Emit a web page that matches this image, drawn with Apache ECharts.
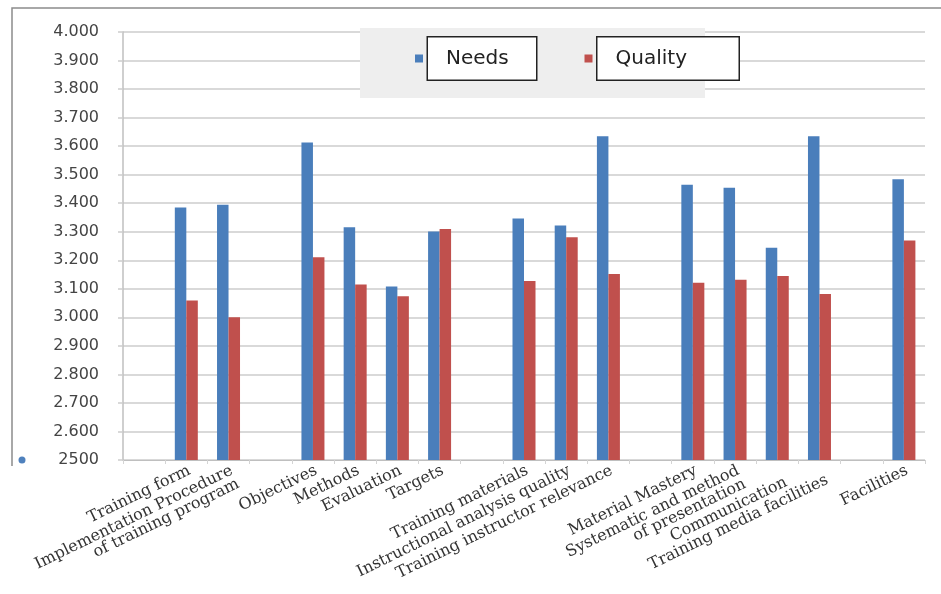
<!DOCTYPE html>
<html>
<head>
<meta charset="utf-8">
<script src="https://cdn.jsdelivr.net/npm/echarts@6/dist/echarts.min.js"></script>
<style>
  html, body { margin: 0; padding: 0; background: #ffffff; }
  #chart { width: 941px; height: 594px; }
</style>
</head>
<body>
<div id="chart"></div>
<script>
// Category slots; blank entries separate the groups of aspects
const categories = [
  '', 'Training form', 'Implementation Procedure\nof training program',
  '', 'Objectives', 'Methods', 'Evaluation', 'Targets',
  '', 'Training materials', 'Instructional analysis quality', 'Training instructor relevance',
  '', 'Material Mastery', 'Systematic and method\nof presentation', 'Communication', 'Training media facilities',
  '', 'Facilities'
];

const needsValues = [
  null, 3.385, 3.395,
  null, 3.613, 3.316, 3.108, 3.301,
  null, 3.346, 3.322, 3.635,
  null, 3.465, 3.454, 3.244, 3.635,
  null, 3.484
];

const qualityValues = [
  null, 3.059, 3.000,
  null, 3.211, 3.115, 3.074, 3.310,
  null, 3.127, 3.281, 3.152,
  null, 3.121, 3.132, 3.145, 3.082,
  null, 3.269
];

const yTickLabels = [
  '2500', '2.600', '2.700', '2.800', '2.900', '3.000', '3.100', '3.200',
  '3.300', '3.400', '3.500', '3.600', '3.700', '3.800', '3.900', '4.000'
];

const seriesNames = ['Needs', 'Quality'];

const chart = echarts.init(document.getElementById('chart'), null, { renderer: 'canvas' });

const legendBox = {
  fontFamily: 'DejaVu Sans', fontSize: 20, color: '#222222', lineHeight: 24,
  padding: [11, 0, 11, 18],
  borderColor: '#222222', borderWidth: 1.5, backgroundColor: '#ffffff'
};

const catFont = { fontFamily: 'DejaVu Serif', fontSize: 16, lineHeight: 15, color: '#333333' };

// labels that sit lower so they clear the two-line label before them
const loweredLabels = { 'Communication': 'low2', 'Training media facilities': 'low1' };

chart.setOption({
  backgroundColor: '#ffffff',
  animation: false,
  grid: { left: 123, right: 16, top: 32, bottom: 134 },
  graphic: [
    {
      // outer frame (left and top edges)
      type: 'polyline',
      z: 0,
      shape: { points: [[12, 466], [12, 8], [941, 8]] },
      style: { stroke: '#8c8c8c', lineWidth: 1.5, fill: null }
    },
    {
      type: 'circle',
      z: 0,
      shape: { cx: 22, cy: 460, r: 3.5 },
      style: { fill: '#4F81BD' }
    },
    {
      // shaded panel behind the legend
      type: 'rect',
      z: 1,
      shape: { x: 360, y: 28, width: 345, height: 70 },
      style: { fill: '#eeeeee' }
    }
  ],
  legend: {
    data: seriesNames,
    left: 415,
    top: 36,
    padding: 0,
    itemWidth: 8,
    itemHeight: 8,
    itemGap: 47,
    icon: 'rect',
    z: 5,
    formatter: function (name) {
      return name === 'Needs' ? '{n|' + name + '}' : '{q|' + name + '}';
    },
    textStyle: {
      rich: {
        n: Object.assign({ width: 90 }, legendBox),
        q: Object.assign({ width: 123 }, legendBox)
      }
    }
  },
  xAxis: {
    type: 'category',
    data: categories,
    axisLine: { show: true, lineStyle: { color: '#bfbfbf', width: 1 } },
    axisTick: { show: true, length: 4, lineStyle: { color: '#d4d4d4' } },
    axisLabel: Object.assign({
      interval: 0,
      rotate: 26,
      margin: 3,
      verticalAlign: 'top',
      formatter: function (value) {
        const key = loweredLabels[value];
        return key ? '{' + key + '|' + value + '}' : value;
      },
      rich: {
        low1: Object.assign({ padding: [21, 0, 0, 0] }, catFont),
        low2: Object.assign({ padding: [26, 0, 0, 0] }, catFont)
      }
    }, catFont),
    splitLine: { show: false }
  },
  yAxis: {
    type: 'value',
    min: 2.5,
    max: 4.0,
    interval: 0.1,
    axisLine: { show: true, lineStyle: { color: '#bfbfbf', width: 1.5 } },
    axisTick: { show: true, length: 5, lineStyle: { color: '#cdcdcd', width: 1.5 } },
    axisLabel: {
      margin: 24,
      fontFamily: 'DejaVu Sans',
      fontSize: 16,
      color: '#444444',
      formatter: function (value, index) { return yTickLabels[index]; }
    },
    splitLine: { show: true, lineStyle: { color: '#cdcdcd', width: 1.5 } }
  },
  series: [
    {
      name: seriesNames[0],
      type: 'bar',
      data: needsValues,
      barWidth: 11.5,
      barGap: '0%',
      itemStyle: { color: '#4A7EBB' }
    },
    {
      name: seriesNames[1],
      type: 'bar',
      data: qualityValues,
      barWidth: 11.5,
      barGap: '0%',
      itemStyle: { color: '#C0504D' }
    }
  ]
});
</script>
</body>
</html>
